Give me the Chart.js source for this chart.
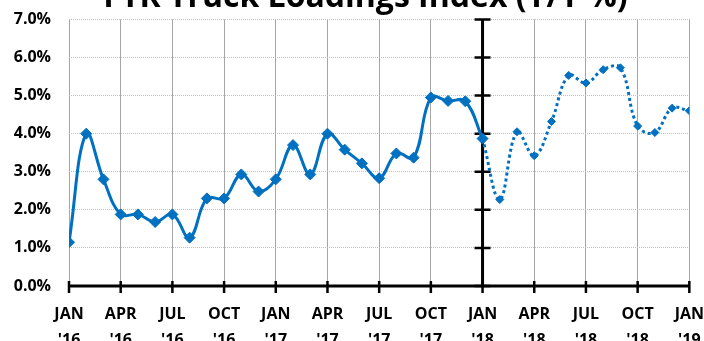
<!DOCTYPE html>
<html>
<head>
<meta charset="utf-8">
<script src="https://cdn.jsdelivr.net/npm/chart.js@4/dist/chart.umd.min.js"></script>
<style>
  html, body { margin: 0; padding: 0; background: #fff; }
  #frame { position: relative; width: 704px; height: 341px; overflow: hidden; }
  #box { position: absolute; left: 0; top: -21px; width: 720px; height: 376px; }
</style>
</head>
<body>
<div id="frame"><div id="box"><canvas id="mainChart"></canvas></div></div>
<script>
const TITLE = 'FTR Truck Loadings Index (Y/Y %)';
const BLUE = '#0070c0';

// month index 0 = Jan '16 ... 36 = Jan '19
const quarterLabels = [
  ['JAN', "'16"], ['APR', "'16"], ['JUL', "'16"], ['OCT', "'16"],
  ['JAN', "'17"], ['APR', "'17"], ['JUL', "'17"], ['OCT', "'17"],
  ['JAN', "'18"], ['APR', "'18"], ['JUL', "'18"], ['OCT', "'18"],
  ['JAN', "'19"],
];

// actual, Jan '16 - Jan '18 (%)
const actualValues = [
  1.15, 4.0, 2.8, 1.88, 1.88, 1.68, 1.88, 1.27, 2.3, 2.3, 2.93, 2.48,
  2.8, 3.7, 2.93, 4.0, 3.58, 3.22, 2.83, 3.48, 3.37, 4.95, 4.86, 4.85,
  3.87,
];

// forecast, Jan '18 - Jan '19 (%)
const forecastStart = 24;
const forecastValues = [
  3.87, 2.27, 4.05, 3.42, 4.32, 5.53, 5.33, 5.68, 5.73, 4.2, 4.03, 4.67, 4.6,
];

const yTicks = [0, 1, 2, 3, 4, 5, 6, 7];
const dividerAt = 24;

const axesPlugin = {
  id: 'axesPlugin',
  beforeDatasetsDraw(c) {
    const { ctx, scales: { x, y } } = c;
    const y0 = y.getPixelForValue(0);
    const xd = x.getPixelForValue(dividerAt);
    ctx.save();
    ctx.strokeStyle = '#000';
    ctx.lineWidth = 3;
    ctx.beginPath();
    ctx.moveTo(x.left, y0);
    ctx.lineTo(x.right, y0);
    ctx.moveTo(xd, y.getPixelForValue(7));
    ctx.lineTo(xd, y0);
    ctx.stroke();
    ctx.lineWidth = 2.5;
    ctx.beginPath();
    for (let m = 0; m <= 36; m += 3) {
      const px = x.getPixelForValue(m);
      ctx.moveTo(px, y0 - 5);
      ctx.lineTo(px, y0 + 7);
    }
    yTicks.forEach(v => {
      const py = y.getPixelForValue(v);
      ctx.moveTo(xd - 8, py);
      ctx.lineTo(xd + 8, py);
    });
    ctx.stroke();
    ctx.restore();
  }
};

const chart = new Chart(document.getElementById('mainChart'), {
  type: 'line',
  data: {
    datasets: [
      {
        label: 'Actual',
        data: actualValues.map((v, i) => ({ x: i, y: v })),
        borderColor: BLUE,
        backgroundColor: BLUE,
        borderWidth: 3,
        pointStyle: 'rectRot',
        pointRadius: 5.5,
        pointBorderWidth: 1,
        tension: 0.4,
      },
      {
        label: 'Forecast',
        data: forecastValues.map((v, i) => ({ x: forecastStart + i, y: v })),
        borderColor: BLUE,
        backgroundColor: BLUE,
        borderWidth: 3,
        borderDash: [3, 3],
        pointStyle: 'rectRot',
        pointRadius: 4,
        pointBorderWidth: 1,
        tension: 0.4,
      },
    ]
  },
  options: {
    responsive: true,
    maintainAspectRatio: false,
    animation: false,
    layout: { padding: { left: 11, right: 0, top: 0, bottom: 0 } },
    plugins: {
      legend: { display: false },
      tooltip: { enabled: false },
      title: {
        display: true,
        text: TITLE,
        color: '#000',
        font: { family: 'Open Sans', size: 32, weight: 'bold' },
        padding: { top: 0, bottom: 2 },
      },
    },
    scales: {
      x: {
        type: 'linear',
        min: 0,
        max: 36,
        afterFit: s => { s.height = 69; },
        ticks: {
          stepSize: 3,
          autoSkip: false,
          maxRotation: 0,
          padding: 16,
          color: '#000',
          font: { family: 'Open Sans', size: 16, weight: 'bold', lineHeight: 1.6 },
          callback: v => quarterLabels[v / 3],
        },
        grid: { color: '#a6a6a6', lineWidth: 1, drawTicks: false },
        border: { display: false },
      },
      y: {
        min: 0,
        max: 7,
        afterFit: s => { s.width = 58; },
        ticks: {
          stepSize: 1,
          padding: 18,
          color: '#000',
          font: { family: 'Open Sans', size: 16, weight: 'bold' },
          callback: v => v.toFixed(1) + '%',
        },
        grid: { color: '#bfbfbf', lineWidth: 1, drawTicks: false },
        border: { display: false, dash: [1, 1] },
      },
    }
  },
  plugins: [axesPlugin]
});
</script>
</body>
</html>
